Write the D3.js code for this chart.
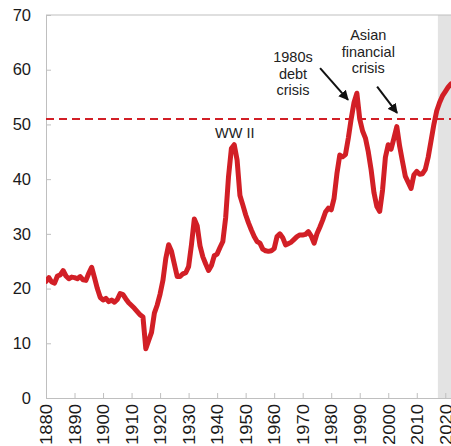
<!DOCTYPE html>
<html>
<head>
<meta charset="utf-8">
<script src="https://cdn.jsdelivr.net/npm/d3@7"></script>
<style>
  body { margin: 0; background: #fff; }
  svg { display: block; font-family: "Liberation Sans", Arial, sans-serif; }
</style>
</head>
<body>
<svg width="451" height="446"></svg>
<script>
// yearly values
var years = d3.range(1880, 2023);
var values = [
  21.3, 22.0, 21.2, 21.0, 22.3, 22.5, 23.3, 22.3, 21.8, 22.1,
  22.0, 21.8, 22.2, 21.6, 21.5, 22.8, 23.9, 22.0, 20.0, 18.4,
  17.9, 18.2, 17.6, 17.9, 17.5, 18.0, 19.1, 18.9, 18.1, 17.4,
  16.9, 16.4, 15.8, 15.2, 14.8, 9.0, 10.5, 12.0, 15.5, 17.0,
  19.0, 21.5, 25.5, 28.0, 26.8, 24.5, 22.2, 22.2, 22.7, 22.9,
  24.0, 28.0, 32.7, 31.5, 27.8, 25.8, 24.5, 23.3, 24.2, 26.0,
  26.3, 27.5, 28.6, 33.0, 40.5, 45.6, 46.3, 43.5, 37.0, 35.3,
  33.5, 32.0, 30.7, 29.5, 28.6, 28.3, 27.2, 26.9, 26.8, 26.9,
  27.3, 29.5, 30.0, 29.3, 28.0, 28.2, 28.5, 29.0, 29.5, 29.8,
  29.8, 29.9, 30.4, 29.6, 28.3, 30.0, 31.2, 32.5, 34.0, 34.7,
  34.4, 36.5, 41.0, 44.4, 44.1, 44.5, 47.5, 51.0, 54.0, 55.7,
  51.0, 48.8, 47.5, 45.0, 41.7, 37.5, 35.0, 34.1, 38.0, 44.0,
  46.3, 45.5, 47.5, 49.6, 46.0, 43.2, 40.5, 39.4, 38.3, 40.8,
  41.4, 40.9, 41.0, 41.8, 44.0, 47.0, 50.0, 52.5, 54.0, 55.2,
  56.0, 56.8, 57.4
];
var average = 51;
var xTicks = d3.range(1880, 2021, 10);
var yTicks = d3.range(0, 71, 10);
var shadeStart = 2017.4;

var svg = d3.select('svg');
var red = '#d21f26', grey = '#bfbfbf';

var x = d3.scaleLinear().domain([1880, 2022]).range([46, 451]);
var y = d3.scaleLinear().domain([0, 70]).range([398, 15]);

var data = years.map(function (d, i) {
  return { year: d, value: values[i] };
});

// shaded projection band
svg.append('rect')
  .attr('x', x(shadeStart))
  .attr('y', y(70))
  .attr('width', x(2022) - x(shadeStart))
  .attr('height', y(0) - y(70))
  .style('fill', '#e3e3e3');

// top frame line
svg.append('line')
  .attr('x1', x(1880)).attr('x2', x(2022))
  .attr('y1', y(70)).attr('y2', y(70))
  .style('stroke', grey);

var yAxis = svg.append('g')
  .attr('transform', 'translate(' + x(1880) + ',0)')
  .call(d3.axisLeft(y).tickValues(yTicks).tickSizeInner(-5).tickSizeOuter(0).tickPadding(15));

var xAxis = svg.append('g')
  .attr('transform', 'translate(0,' + y(0) + ')')
  .call(d3.axisBottom(x).tickValues(xTicks).tickFormat(d3.format('d')).tickSizeInner(-5).tickSizeOuter(0));

[yAxis, xAxis].forEach(function (g) {
  g.select('.domain').style('stroke', grey);
  g.selectAll('.tick line').style('stroke', grey);
  g.selectAll('text').style('font-size', '16.5px').style('fill', '#1a1a1a')
    .style('font-family', '"Liberation Sans", Arial, sans-serif');
});

xAxis.selectAll('text')
  .attr('transform', 'translate(0,6) rotate(-90)')
  .attr('x', 0).attr('y', 0).attr('dy', '0.35em')
  .attr('text-anchor', 'end')
  .attr('textLength', 41)
  .attr('lengthAdjust', 'spacingAndGlyphs');

// dashed average line
svg.append('line')
  .attr('x1', x(1880)).attr('x2', x(2022))
  .attr('y1', y(average)).attr('y2', y(average))
  .style('stroke', red)
  .style('stroke-width', 2)
  .style('stroke-dasharray', '8,5');

svg.append('clipPath').attr('id', 'plot')
  .append('rect')
  .attr('x', x(1880)).attr('y', y(70))
  .attr('width', x(2022) - x(1880)).attr('height', y(0) - y(70));

var line = d3.line()
  .x(function (d) { return x(d.year); })
  .y(function (d) { return y(d.value); });

svg.append('path')
  .datum(data)
  .attr('clip-path', 'url(#plot)')
  .attr('d', line)
  .style('fill', 'none')
  .style('stroke', red)
  .style('stroke-width', 5)
  .style('stroke-linejoin', 'round')
  .style('stroke-linecap', 'round');

// annotations
svg.append('defs').append('marker')
  .attr('id', 'arrow')
  .attr('viewBox', '0 0 10 10')
  .attr('refX', 9).attr('refY', 5)
  .attr('markerWidth', 5).attr('markerHeight', 5)
  .attr('markerUnits', 'strokeWidth')
  .attr('orient', 'auto')
  .append('path')
  .attr('d', 'M0,0L10,5L0,10z')
  .style('fill', '#111');

function note(lines, cx, baseline) {
  var t = svg.append('text')
    .attr('text-anchor', 'middle')
    .style('font-size', '14.5px')
    .style('fill', '#222');
  lines.forEach(function (s, i) {
    t.append('tspan').attr('x', cx).attr('y', baseline + i * 16.5).text(s);
  });
}

function arrow(x1, y1, x2, y2) {
  svg.append('line')
    .attr('x1', x(x1)).attr('y1', y(y1))
    .attr('x2', x(x2)).attr('y2', y(y2))
    .attr('marker-end', 'url(#arrow)')
    .style('stroke', '#111')
    .style('stroke-width', 2);
}

note(['WW II'], x(1946.2), 138);
note(['1980s', 'debt', 'crisis'], x(1966.6), 62);
note(['Asian', 'financial', 'crisis'], x(1993), 40);
arrow(1976.1, 60.3, 1985.9, 54.5);
arrow(1996.1, 56.9, 2003.1, 52.1);
</script>
</body>
</html>
